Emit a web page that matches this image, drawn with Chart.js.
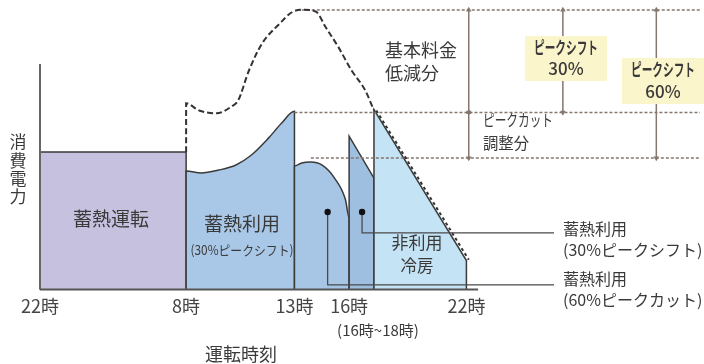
<!DOCTYPE html>
<html lang="ja">
<head>
<meta charset="UTF-8">
<title>蓄熱運転とピークシフト</title>
<script src="https://cdn.jsdelivr.net/npm/chart.js@4.4.0/dist/chart.umd.min.js"></script>
<style>
  html, body { margin: 0; padding: 0; background: #fff; }
</style>
</head>
<body>
<canvas id="myChart" width="704" height="364"></canvas>
<script>
// hours run from 22時 (22) to the next day's 22時 (46)
const tickHours = [22, 32, 37, 40, 46];
const tickLabels = ['22時', '8時', '13時', '16時', '22時'];

// 蓄熱運転 (night)
const nightHours = [22, 22, 32, 32];
const nightPower = [0, 48.1, 48.1, 0];

// 蓄熱利用 30% peak shift, 8時-13時
const shiftHours = [32, 32, 32.7, 33.5, 34.3, 35.0, 35.8, 36.4, 37, 37];
const shiftPower = [0, 41.5, 40.8, 41.8, 43.6, 47.0, 53.0, 58.2, 62.4, 0];

// 蓄熱利用 60% peak cut, 13時-16時
const cutHours = [37, 37, 37.4, 37.9, 38.5, 39.2, 39.8, 40, 40];
const cutPower = [0, 43.2, 44.3, 44.6, 43.6, 39.0, 31.4, 25.1, 0];

// 蓄熱利用 30% peak shift, 16時-18時
const lateHours = [40, 40, 42, 42];
const latePower = [0, 53.7, 39.0, 0];

// 非利用冷房, 18時-22時
const coolHours = [42, 42, 46, 46];
const coolPower = [0, 63.0, 10.1, 0];

// demand without heat storage (dashed)
const demandHours = [32, 32, 32.6, 33.4, 34.1, 34.4, 34.9, 35.5, 36.3, 36.9, 37.5, 38.2, 38.7, 39.4, 40.2, 41.3, 42.0];
const demandPower = [48.1, 65.2, 62.7, 61.7, 64.1, 66.2, 76.7, 86.1, 93.0, 97.2, 98.0, 97.2, 92.0, 85.0, 76.7, 69.7, 62.7];
const demandTailHours = [42.1, 46.1];
const demandTailPower = [62.7, 10.4];

// contract levels
const peakLevel = 97.9;
const cutLevel = 62.0;
const shiftLevel = 46.0;

// annotation arrow / leader positions (hours)
const arrowBaseHour = 46.1;
const arrowShift30Hour = 50.13;
const arrowShift60Hour = 54.13;
const leaderCutHours = [38.82, 38.82, 49.75];
const leaderCutPower = [27.1, 1.6, 1.6];
const leaderShiftHours = [41.04, 41.04, 49.75];
const leaderShiftPower = [27.1, 19.8, 19.8];

const xMin = 22, xMax = 56;

// piecewise time axis: the night hours are drawn narrower than the day
const bandHours = [22, 32, 37, 40, 42, 46, 56];
const bandStops = [0, 147, 256, 311, 336, 429, 664].map(p => p / 664);

function warp(v) {
  if (v <= bandHours[0]) return bandStops[0] + (v - bandHours[0]) * (bandStops[1] - bandStops[0]) / (bandHours[1] - bandHours[0]);
  for (let i = 1; i < bandHours.length; i++) {
    if (v <= bandHours[i]) {
      const t = (v - bandHours[i - 1]) / (bandHours[i] - bandHours[i - 1]);
      return bandStops[i - 1] + t * (bandStops[i] - bandStops[i - 1]);
    }
  }
  const n = bandHours.length - 1;
  return bandStops[n] + (v - bandHours[n]) * (bandStops[n] - bandStops[n - 1]) / (bandHours[n] - bandHours[n - 1]);
}
function unwarp(d) {
  for (let i = 1; i < bandStops.length; i++) {
    if (d <= bandStops[i] || i === bandStops.length - 1) {
      const t = (d - bandStops[i - 1]) / (bandStops[i] - bandStops[i - 1]);
      return bandHours[i - 1] + t * (bandHours[i] - bandHours[i - 1]);
    }
  }
}

class TimeBandScale extends Chart.LinearScale {
  getPixelForValue(value) {
    return value === null ? NaN : this.getPixelForDecimal(warp(value));
  }
  getValueForPixel(pixel) {
    return unwarp(this.getDecimalForPixel(pixel));
  }
}
TimeBandScale.id = 'timeband';
TimeBandScale.defaults = Chart.LinearScale.defaults;
Chart.register(TimeBandScale);

const zip = (xs, ys) => xs.map((x, i) => ({ x: x, y: ys[i] }));
const flat = (x0, x1, y) => [{ x: x0, y: y }, { x: x1, y: y }];
const vert = (x, y0, y1) => [{ x: x, y: y0 }, { x: x, y: y1 }];

const EDGE = '#3a3a3a';
const BROWN = '#85766e';
const TEXT = '#3a3a3a';

function area(data, fill, order, curved) {
  return {
    data: data, fill: 'origin', backgroundColor: fill, borderColor: EDGE,
    borderWidth: 1.5, pointRadius: 0, tension: 0,
    cubicInterpolationMode: curved ? 'monotone' : 'default', order: order, clip: false
  };
}
function rule(data, color, width, dash, order, curved) {
  return {
    data: data, fill: false, borderColor: color, borderWidth: width, borderDash: dash || [],
    pointRadius: 0, tension: 0, cubicInterpolationMode: curved ? 'monotone' : 'default',
    order: order, clip: false
  };
}
function arrow(x, top, bottom) {
  return {
    data: vert(x, top, bottom), fill: false, borderColor: BROWN, borderWidth: 1.5,
    pointStyle: 'triangle', pointRadius: 3.2, pointRotation: [0, 180],
    pointBackgroundColor: BROWN, pointBorderWidth: 0, tension: 0, order: 3, clip: false
  };
}
function leader(xs, ys) {
  return {
    data: zip(xs, ys), fill: false, borderColor: '#4a4a4a', borderWidth: 1.3,
    pointRadius: [3.2, 0, 0], pointBackgroundColor: '#111', pointBorderWidth: 0,
    tension: 0, order: 1, clip: false
  };
}

const notes = {
  id: 'notes',
  afterDatasetsDraw(chart) {
    const c = chart.ctx;
    const F = "'Noto Sans CJK JP', sans-serif";
    const say = (t, x, y, size, align, weight, maxW) => {
      c.font = (weight || 400) + ' ' + size + 'px ' + F;
      c.textAlign = align || 'center';
      c.textBaseline = 'middle';
      c.fillStyle = TEXT;
      if (maxW) c.fillText(t, x, y, maxW); else c.fillText(t, x, y);
    };
    c.save();
    // yellow boxes over the arrows
    c.fillStyle = '#faf5cb';
    c.fillRect(525, 36, 82, 45);
    c.fillRect(622, 58, 82, 46);
    say('ピークシフト', 566, 48, 17, 'center', 700, 64);
    say('30%', 566, 69, 17, 'center', 500);
    say('ピークシフト', 663, 70, 17, 'center', 700, 64);
    say('60%', 663, 92, 17, 'center', 500);

    say('基本料金', 385, 50, 18, 'left', 400, 77);
    say('低減分', 385, 73, 18, 'left', 400, 58);
    say('ピークカット', 483, 120, 16, 'left', 400, 70);
    say('調整分', 483, 143, 16, 'left', 400, 46);

    say('蓄熱運転', 111, 219, 19, 'center', 400, 78);
    say('蓄熱利用', 242, 224, 19, 'center', 400, 76);
    say('(30%ピークシフト)', 242, 250, 13, 'center', 400, 103);
    say('非利用', 417, 243, 17, 'center', 400, 51);
    say('冷房', 417, 266, 17, 'center', 400, 33);

    say('蓄熱利用', 563, 229, 16, 'left', 400, 66);
    say('(30%ピークシフト)', 563, 250, 16, 'left', 400, 140);
    say('蓄熱利用', 563, 279, 16, 'left', 400, 66);
    say('(60%ピークカット)', 563, 300, 16, 'left', 400, 140);

    ['消', '費', '電', '力'].forEach((ch, i) => say(ch, 18, 142 + i * 18.3, 17));
    say('(16時~18時)', 378, 330, 15, 'center', 400, 99);
    say('運転時刻', 241, 354, 18, 'center', 400, 75);
    c.restore();
  }
};

Chart.defaults.font.family = "'Noto Sans CJK JP', sans-serif";

new Chart(document.getElementById('myChart').getContext('2d'), {
  type: 'line',
  data: {
    datasets: [
      leader(leaderCutHours, leaderCutPower),
      leader(leaderShiftHours, leaderShiftPower),
      rule(zip(demandHours, demandPower), '#333', 2, [6, 3], 2, true),
      rule(zip(demandTailHours, demandTailPower), '#333', 2, [3, 3], 2),
      arrow(arrowBaseHour, peakLevel, cutLevel),
      arrow(arrowBaseHour, cutLevel, shiftLevel),
      arrow(arrowShift30Hour, peakLevel, cutLevel),
      arrow(arrowShift60Hour, peakLevel, shiftLevel),
      rule(flat(37.4, xMax, peakLevel), BROWN, 1.5, [3, 2], 4),
      rule(flat(37, xMax, cutLevel), BROWN, 1.5, [3, 2], 4),
      rule(flat(37.9, xMax, shiftLevel), BROWN, 1.5, [3, 2], 4),
      rule(flat(22, 46.5, 0), '#555', 2, [], 5),
      rule(vert(22, 0, 79), '#6b6565', 2, [], 5),
      area(zip(coolHours, coolPower), '#c4e3f5', 6, false),
      area(zip(lateHours, latePower), '#9fbfe1', 7, false),
      area(zip(cutHours, cutPower), '#a7c5e5', 8, true),
      area(zip(shiftHours, shiftPower), '#a9c8e7', 9, true),
      area(zip(nightHours, nightPower), '#c6c1df', 10, false)
    ]
  },
  options: {
    responsive: false,
    animation: false,
    layout: { padding: { left: 40, right: 0, top: 0, bottom: 41 } },
    plugins: { legend: { display: false }, tooltip: { enabled: false } },
    events: [],
    scales: {
      x: {
        type: 'timeband', min: xMin, max: xMax,
        grid: { display: false, drawTicks: false },
        border: { display: false },
        afterBuildTicks: s => { s.ticks = tickHours.map(v => ({ value: v })); },
        ticks: {
          autoSkip: false, maxRotation: 0, padding: 6, color: '#444',
          font: { size: 18 },
          callback: v => tickLabels[tickHours.indexOf(v)]
        }
      },
      y: { type: 'linear', min: 0, max: 100, display: false }
    }
  },
  plugins: [notes]
});
</script>
</body>
</html>
